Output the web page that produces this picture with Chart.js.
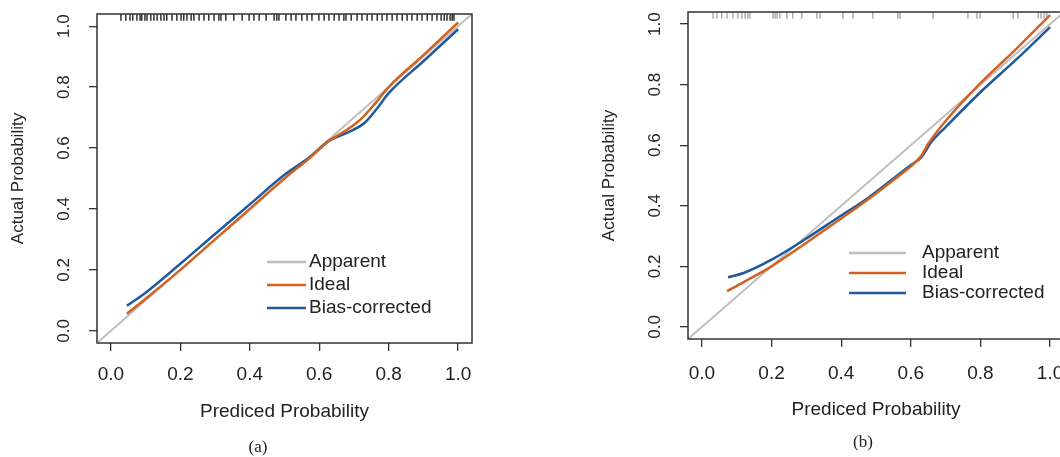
<!DOCTYPE html>
<html>
<head>
<meta charset="utf-8">
<script src="https://cdn.jsdelivr.net/npm/chart.js@4.4.0/dist/chart.umd.min.js"></script>
<style>
html, body { margin:0; padding:0; background:#fff; overflow:hidden; width:1060px; height:457px; }
.wrap { position:absolute; top:0; height:457px; width:490px; }
.cap { position:absolute; font-family:'Liberation Serif','Times New Roman',serif; font-size:17px; color:#222; transform:translateX(-50%); }
</style>
</head>
<body>
<div class="wrap" style="left:0px"><canvas id="calib_a" width="490" height="457"></canvas></div>
<div class="wrap" style="left:590px"><canvas id="calib_b" width="490" height="457"></canvas></div>
<div class="cap" style="left:258px; top:437px">(a)</div>
<div class="cap" style="left:863px; top:432px">(b)</div>

<script>
// 축 눈금
const tickVals = [0, 0.2, 0.4, 0.6, 0.8, 1.0];
const axisMin = -0.04, axisMax = 1.04;

// Apparent (대각선)
const apparentX = [-0.04, 1.04];
const apparentY = [-0.04, 1.04];

// (a) 곡선
const idealX_a = [0.046, 0.1, 0.2, 0.3, 0.4, 0.5, 0.57, 0.63, 0.68, 0.72, 0.76, 0.8, 0.9, 1.0];
const idealY_a = [0.056, 0.105, 0.2, 0.3, 0.4, 0.5, 0.565, 0.625, 0.66, 0.695, 0.745, 0.8, 0.905, 1.012];
const biasX_a  = [0.046, 0.1, 0.2, 0.3, 0.4, 0.5, 0.57, 0.63, 0.68, 0.73, 0.77, 0.8, 0.9, 1.0];
const biasY_a  = [0.082, 0.125, 0.22, 0.318, 0.415, 0.512, 0.568, 0.625, 0.65, 0.682, 0.735, 0.78, 0.885, 0.99];
// (a) rug
const rug_a = [0.029, 0.043, 0.055, 0.063, 0.075, 0.084, 0.089, 0.098, 0.104, 0.115, 0.124, 0.133, 0.144, 0.153,
	0.161, 0.176, 0.190, 0.202, 0.210, 0.219, 0.231, 0.239, 0.254, 0.268, 0.282, 0.297, 0.311, 0.317, 0.331,
	0.354, 0.378, 0.398, 0.412, 0.427, 0.447, 0.470, 0.478, 0.484, 0.504, 0.519, 0.533, 0.550, 0.565, 0.579,
	0.599, 0.614, 0.628, 0.643, 0.657, 0.671, 0.677, 0.692, 0.709, 0.723, 0.738, 0.752, 0.767, 0.781, 0.795,
	0.810, 0.824, 0.839, 0.853, 0.867, 0.882, 0.896, 0.911, 0.925, 0.939, 0.951, 0.960, 0.968, 0.977, 0.983, 0.988];

// (b) 곡선
const idealX_b = [0.072, 0.12, 0.2, 0.3, 0.4, 0.47, 0.55, 0.6, 0.63, 0.65, 0.7, 0.8, 0.9, 1.0];
const idealY_b = [0.118, 0.148, 0.2, 0.278, 0.358, 0.415, 0.485, 0.53, 0.565, 0.605, 0.68, 0.805, 0.915, 1.03];
const biasX_b  = [0.075, 0.12, 0.2, 0.3, 0.4, 0.47, 0.55, 0.6, 0.63, 0.66, 0.7, 0.8, 0.9, 1.0];
const biasY_b  = [0.164, 0.178, 0.222, 0.292, 0.368, 0.42, 0.49, 0.535, 0.56, 0.612, 0.66, 0.775, 0.88, 0.99];
// (b) rug
const rug_b = [0.032, 0.043, 0.057, 0.072, 0.089, 0.103, 0.115, 0.124, 0.132, 0.138, 0.204, 0.210, 0.216, 0.224,
	0.244, 0.261, 0.287, 0.330, 0.339, 0.405, 0.434, 0.491, 0.563, 0.569, 0.664, 0.764, 0.790, 0.799,
	0.894, 0.908, 0.966, 0.974, 0.983, 0.991];

const FONT = "'Liberation Sans', Arial, sans-serif";
const toXY = (xs, ys) => xs.map((x, i) => ({x: x, y: ys[i]}));

// 박스 테두리
const framePlugin = {
	id: 'frame',
	afterDraw(chart) {
		const {ctx, chartArea: a} = chart;
		ctx.save();
		ctx.strokeStyle = '#333';
		ctx.lineWidth = 1.5;
		ctx.strokeRect(a.left, a.top, a.right - a.left, a.bottom - a.top);
		ctx.restore();
	}
};

// 범례 (그림 안쪽)
const legendPlugin = {
	id: 'innerLegend',
	afterDraw(chart, args, opts) {
		const ctx = chart.ctx;
		ctx.save();
		ctx.font = '19px ' + FONT;
		ctx.textBaseline = 'middle';
		ctx.fillStyle = '#222';
		chart.data.datasets.filter(d => !d.isRug).forEach((d, i) => {
			const y = opts.y + i * opts.gap;
			ctx.strokeStyle = d.borderColor;
			ctx.lineWidth = 2.5;
			ctx.beginPath();
			ctx.moveTo(opts.x, y);
			ctx.lineTo(opts.x + opts.len, y);
			ctx.stroke();
			ctx.fillText(d.label, opts.x + opts.len + opts.textGap, y);
		});
		ctx.restore();
	}
};

function makeCalib(id, s) {
	return new Chart(document.getElementById(id).getContext('2d'), {
		type: 'scatter',
		plugins: [framePlugin, legendPlugin],
		data: {
			datasets: [{
				label: 'Apparent',
				data: toXY(apparentX, apparentY),
				showLine: true,
				borderColor: '#bebebe',
				borderWidth: 2,
				pointRadius: 0,
				order: 3,
			}, {
				label: 'Ideal',
				data: toXY(s.idealX, s.idealY),
				showLine: true,
				borderColor: '#d2621f',
				borderWidth: 2.5,
				pointRadius: 0,
				cubicInterpolationMode: 'monotone',
				order: 1,
			}, {
				label: 'Bias-corrected',
				data: toXY(s.biasX, s.biasY),
				showLine: true,
				borderColor: '#1f5a9e',
				borderWidth: 2.5,
				pointRadius: 0,
				cubicInterpolationMode: 'monotone',
				order: 2,
			}, {
				label: 'rug',
				isRug: true,
				data: s.rug.map(x => ({x: x, y: 1.03})),
				showLine: false,
				pointStyle: 'line',
				pointRotation: 90,
				pointRadius: 3.8,
				pointBorderWidth: 1.3,
				pointBorderColor: s.rugColor,
				order: 4,
			}]
		},
		options: {
			responsive: false,
			animation: false,
			events: [],
			layout: { padding: { left: 0, right: s.padRight, top: s.padTop, bottom: 0 } },
			scales: {
				x: {
					type: 'linear',
					min: axisMin, max: axisMax,
					afterBuildTicks: sc => { sc.ticks = tickVals.map(v => ({value: v})); },
					afterFit: sc => { sc.height = s.xAxisH; sc.paddingLeft = 0; sc.paddingRight = 0; },
					border: { display: false },
					grid: { drawOnChartArea: false, drawTicks: true, tickLength: 8, color: '#333', lineWidth: 1.3 },
					ticks: {
						color: '#222',
						padding: s.xTickPad,
						maxRotation: 0,
						font: { size: 19, family: FONT },
						callback: v => v.toFixed(1)
					},
					title: {
						display: true,
						text: 'Prediced Probability',
						color: '#222',
						font: { size: 19, family: FONT },
						padding: { top: 0, bottom: s.xTitlePad }
					}
				},
				y: {
					type: 'linear',
					min: axisMin, max: axisMax,
					afterBuildTicks: sc => { sc.ticks = tickVals.map(v => ({value: v})); },
					afterFit: sc => { sc.width = s.yAxisW; sc.paddingTop = 0; sc.paddingBottom = 0; },
					border: { display: false },
					grid: { drawOnChartArea: false, drawTicks: true, tickLength: 8, color: '#333', lineWidth: 1.3 },
					ticks: {
						color: '#222',
						padding: s.yTickPad,
						minRotation: 90,
						maxRotation: 90,
						crossAlign: 'center',
						font: { size: 17, family: FONT },
						callback: v => v.toFixed(1)
					},
					title: {
						display: true,
						text: 'Actual Probability',
						color: '#222',
						font: { size: 17, family: FONT },
						padding: { top: s.yTitlePad, bottom: 0 }
					}
				}
			},
			plugins: {
				legend: { display: false },
				tooltip: { enabled: false },
				innerLegend: s.legend
			}
		}
	});
}

// (a)
const chart_a = makeCalib('calib_a', {
	idealX: idealX_a, idealY: idealY_a, biasX: biasX_a, biasY: biasY_a,
	rug: rug_a, rugColor: '#111',
	padRight: 18, padTop: 14, xAxisH: 114, yAxisW: 97,
	xTickPad: 12, xTitlePad: 34, yTickPad: 13, yTitlePad: 8,
	legend: { x: 267, y: 262, gap: 23, len: 39, textGap: 3 }
});

// (b)
const chart_b = makeCalib('calib_b', {
	idealX: idealX_b, idealY: idealY_b, biasX: biasX_b, biasY: biasY_b,
	rug: rug_b, rugColor: '#a0a0a0',
	padRight: 16, padTop: 12, xAxisH: 118, yAxisW: 98,
	xTickPad: 15, xTitlePad: 36, yTickPad: 13, yTitlePad: 9,
	legend: { x: 259, y: 253, gap: 20, len: 57, textGap: 16 }
});
</script>
</body>
</html>
